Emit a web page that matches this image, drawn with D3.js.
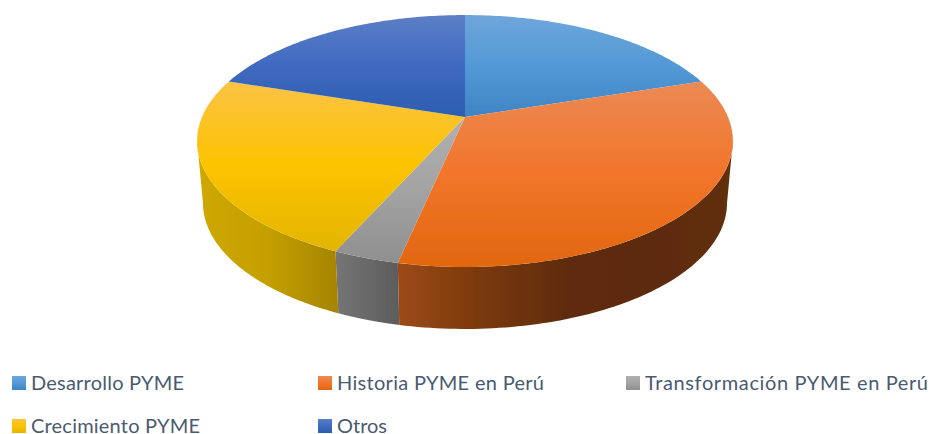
<!DOCTYPE html>
<html>
<head>
<meta charset="utf-8">
<script src="https://cdn.jsdelivr.net/npm/d3@7"></script>
<style>
  html, body { margin: 0; padding: 0; background: #fff; overflow: hidden; }
  svg { display: block; }
  .legend text { font-family: Lato, sans-serif; font-size: 20px; fill: #4a5a70; }
</style>
</head>
<body>
<svg id="chart"></svg>
<script>
const w = 932;
const h = 434;

const categories = ['Desarrollo PYME', 'Historia PYME en Perú', 'Transformación PYME en Perú', 'Crecimiento PYME', 'Otros'];
const values = [6, 10, 1, 7, 6];
const topColors = [
  ['#6ea6da', '#5399d6', '#3f84c4'],
  ['#ec8a55', '#f2752a', '#e2670f'],
  ['#b0b0b0', '#a3a3a3', '#8f8f8f'],
  ['#fbc345', '#fcc300', '#e3b500'],
  ['#5c7fc6', '#3f6ac2', '#2c5dae']
];
const sideColors = [
  ['#4f85b8', '#3a6a99'],
  ['#9c4a14', '#7a380e', '#5f2c0b', '#5c2a0a', '#62300c'],
  ['#757575', '#5c5c5c'],
  ['#cfa800', '#c4a000', '#a58400'],
  ['#3f68b0', '#2c5095']
];
const labelWidths = [153, 207, 283, 169, 50];

// perspective of the disc: circle -> screen
const cx = 465;
const cy = 117;
const R = 263;
const persp = -0.1905;
const tilt = 99.1;
const depth = 62;
const bottomShrink = 0.978;
// where the rim turns away from the viewer
const wallStart = Math.acos(persp);
const wallEnd = 2 * Math.PI - wallStart;

function rim(a) {
  const s = -Math.cos(a);   // s = 1 is the front of the disc
  const c = Math.sin(a);
  const k = 1 + persp * s;
  return [cx + R * c / k, (cy + tilt * s) / k];
}
function rimBottom(a) {
  const p = rim(a);
  return [cx + (p[0] - cx) * bottomShrink, p[1] + depth];
}
function arcAngles(start, end) {
  return d3.range(0, 1.0001, 1 / 80).map(t => start + (end - start) * t);
}

const svg = d3.select('#chart')
  .attr('width', w)
  .attr('height', h)
  .attr('viewBox', `0 0 ${w} ${h}`);

const defs = svg.append('defs');
defs.append('filter')
  .attr('id', 'soft')
  .attr('x', '-5%').attr('y', '-5%').attr('width', '110%').attr('height', '110%')
  .append('feGaussianBlur')
  .attr('stdDeviation', 0.5);

function gradient(id, colors, horizontal) {
  const g = defs.append('linearGradient')
    .attr('id', id)
    .attr('x1', 0).attr('y1', 0)
    .attr('x2', horizontal ? 1 : 0)
    .attr('y2', horizontal ? 0 : 1);
  g.selectAll('stop')
    .data(colors)
    .enter()
    .append('stop')
    .attr('offset', (d, i) => i / (colors.length - 1))
    .attr('stop-color', d => d);
}
topColors.forEach((c, i) => gradient('top' + i, c, false));
sideColors.forEach((c, i) => gradient('side' + i, c, true));

const pie = d3.pie().sort(null).value(d => d);
const slices = pie(values);
const line = d3.line();

const disc = svg.append('g').attr('filter', 'url(#soft)');

// side wall first, only the part of the rim that faces the viewer
disc.selectAll('path.side')
  .data(slices.filter(d => d.endAngle > wallStart && d.startAngle < wallEnd))
  .enter()
  .append('path')
  .attr('class', 'side')
  .attr('fill', d => `url(#side${d.index})`)
  .attr('d', d => {
    const as = arcAngles(Math.max(d.startAngle, wallStart), Math.min(d.endAngle, wallEnd));
    return line(as.map(rim).concat(as.slice().reverse().map(rimBottom))) + 'Z';
  });

disc.selectAll('path.top')
  .data(slices)
  .enter()
  .append('path')
  .attr('class', 'top')
  .attr('fill', d => `url(#top${d.index})`)
  .attr('d', d => line([[cx, cy]].concat(arcAngles(d.startAngle, d.endAngle).map(rim))) + 'Z');

// legend
const colX = d3.scaleOrdinal().domain([0, 1, 2]).range([12, 318, 626]);
const rowY = d3.scaleOrdinal().domain([0, 1]).range([376, 419]);

const legend = svg.append('g').attr('class', 'legend');
const item = legend.selectAll('g')
  .data(categories)
  .enter()
  .append('g')
  .attr('transform', (d, i) => `translate(${colX(i % 3)},${rowY(Math.floor(i / 3))})`);

item.append('rect')
  .attr('width', 14)
  .attr('height', 14)
  .attr('fill', (d, i) => `url(#top${i})`);

item.append('text')
  .attr('x', 19)
  .attr('y', 14)
  .attr('textLength', (d, i) => labelWidths[i])
  .attr('lengthAdjust', 'spacing')
  .text(d => d);
</script>
</body>
</html>
